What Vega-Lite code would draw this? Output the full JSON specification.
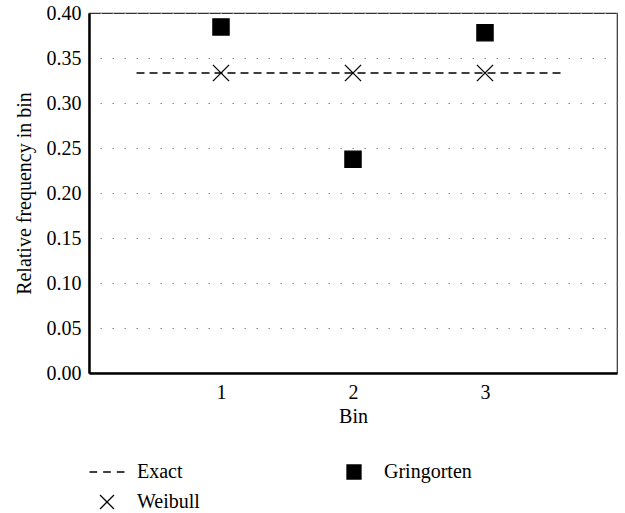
{
  "$schema": "https://vega.github.io/schema/vega-lite/v6.json",
  "width": 528,
  "height": 360,
  "autosize": {"type": "none"},
  "padding": {"left": 89, "top": 13, "right": 8, "bottom": 140},
  "background": "#ffffff",
  "config": {
    "font": "Liberation Serif",
    "view": {"stroke": "#333333", "strokeWidth": 1.2},
    "axis": {
      "labelFont": "Liberation Serif",
      "titleFont": "Liberation Serif",
      "labelFontSize": 20,
      "titleFontSize": 20,
      "titleFontWeight": "normal",
      "labelColor": "#000000",
      "titleColor": "#000000",
      "ticks": false,
      "domainColor": "#000000",
      "domainWidth": 2.5
    }
  },
  "data": {
    "values": [
      {"series": "Exact", "x": 0.36, "x2": 3.58, "value": 0.33333},
      {"series": "Weibull", "x": 1, "value": 0.33333},
      {"series": "Weibull", "x": 2, "value": 0.33333},
      {"series": "Weibull", "x": 3, "value": 0.33333},
      {"series": "Gringorten", "x": 1, "value": 0.3845},
      {"series": "Gringorten", "x": 2, "value": 0.2375},
      {"series": "Gringorten", "x": 3, "value": 0.378}
    ]
  },
  "encoding": {
    "x": {
      "field": "x",
      "type": "quantitative",
      "scale": {"domain": [0, 4], "nice": false, "zero": false},
      "axis": {"title": "Bin", "values": [1, 2, 3], "format": "d", "grid": false, "labelPadding": 9, "titlePadding": 4}
    },
    "y": {
      "field": "value",
      "type": "quantitative",
      "scale": {"domain": [0, 0.4], "nice": false},
      "axis": {
        "title": "Relative frequency in bin",
        "values": [0, 0.05, 0.1, 0.15, 0.2, 0.25, 0.3, 0.35, 0.4],
        "format": ".2f",
        "labelPadding": 8,
        "titlePadding": 12,
        "grid": true,
        "gridDash": [1.5, 10.5],
        "gridDashOffset": 1,
        "gridColor": "#888888",
        "gridWidth": 1.2
      }
    }
  },
  "layer": [
    {
      "transform": [{"filter": "datum.series === 'Exact'"}],
      "mark": {"type": "rule", "strokeDash": [8, 5], "strokeWidth": 1.3, "color": "#000000"},
      "encoding": {"x2": {"field": "x2"}}
    },
    {
      "transform": [{"filter": "datum.series !== 'Exact'"}],
      "mark": {"type": "point", "filled": true, "fill": "#000000", "strokeWidth": 1.3, "opacity": 1, "size": 262},
      "encoding": {
        "stroke": {
          "field": "series",
          "type": "nominal",
          "scale": {"domain": ["Exact", "Weibull", "Gringorten"], "range": ["#000000", "#000000", "#000000"]}
        },
        "shape": {
          "field": "series",
          "type": "nominal",
          "scale": {
            "domain": ["Exact", "Weibull", "Gringorten"],
            "range": ["M-2.5,0L-1.4,0M-0.55,0L0.55,0M1.4,0L2.5,0", "M-1,-1L1,1M-1,1L1,-1", "square"]
          },
          "legend": {
            "orient": "none",
            "legendX": 8,
            "legendY": 449,
            "columns": 2,
            "title": null,
            "padding": 0,
            "symbolSize": 196,
            "symbolFillColor": "#000000",
            "symbolStrokeWidth": 1.3,
            "symbolOpacity": 1,
            "labelFont": "Liberation Serif",
            "labelFontSize": 20,
            "labelColor": "#000000",
            "labelOffset": 20,
            "columnPadding": 144,
            "rowPadding": 10,
            "encode": {
              "labels": {"update": {"dx": {"value": {"expr": "datum.value === 'Gringorten' ? -9 : 0"}}}}
            }
          }
        }
      }
    }
  ]
}
